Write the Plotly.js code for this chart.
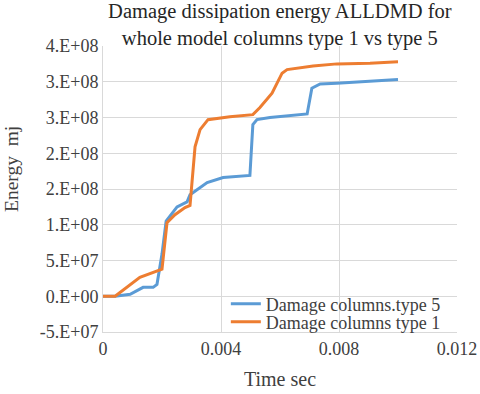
<!DOCTYPE html>
<html>
<head>
<meta charset="utf-8">
<script src="https://cdn.plot.ly/plotly-3.0.1.min.js"></script>
<style>
html,body{margin:0;padding:0;background:#fff;}
#chart{width:480px;height:394px;}
</style>
</head>
<body>
<div id="chart"></div>
<script>
// Damage columns.type 5 (blue)
var timeType5 = [0, 0.00041, 0.00092, 0.00136, 0.0017, 0.00183, 0.0020, 0.00214, 0.00251, 0.00285, 0.00295, 0.00319, 0.00353, 0.00407, 0.00498, 0.00508, 0.00522, 0.00566, 0.00624, 0.00692, 0.00708, 0.00736, 0.00793, 0.00905, 0.0100];
var energyType5 = [0, 0, 2.8e6, 1.25e7, 1.25e7, 1.67e7, 5.9e7, 1.05e8, 1.25e8, 1.32e8, 1.42e8, 1.49e8, 1.59e8, 1.66e8, 1.69e8, 2.40e8, 2.47e8, 2.50e8, 2.52e8, 2.55e8, 2.91e8, 2.97e8, 2.98e8, 3.01e8, 3.03e8];
// Damage columns type 1 (orange)
var timeType1 = [0, 0.00041, 0.00125, 0.00186, 0.0020, 0.00217, 0.00244, 0.00278, 0.00295, 0.00312, 0.00329, 0.00356, 0.0043, 0.00508, 0.00532, 0.00573, 0.00607, 0.00624, 0.00712, 0.00793, 0.00905, 0.0100];
var energyType1 = [0, 0, 2.65e7, 3.5e7, 3.8e7, 1.03e8, 1.14e8, 1.24e8, 1.27e8, 2.09e8, 2.33e8, 2.47e8, 2.51e8, 2.54e8, 2.64e8, 2.84e8, 3.12e8, 3.17e8, 3.22e8, 3.25e8, 3.26e8, 3.28e8];
// Axis ticks (labels as shown, rounded by the original format)
var yTickVals = [-5e7, 0, 5e7, 1e8, 1.5e8, 2e8, 2.5e8, 3e8, 3.5e8];
var yTickText = ['-5.E+07', '0.E+00', '5.E+07', '1.E+08', '2.E+08', '2.E+08', '3.E+08', '3.E+08', '4.E+08'];
var xTickVals = [0, 0.004, 0.008, 0.012];
var xTickText = ['0', '0.004', '0.008', '0.012'];

var fontFam = 'Liberation Serif, Times New Roman, serif';
var traces = [
  {x: timeType5, y: energyType5, mode: 'lines', name: 'Damage columns.type 5',
   line: {color: '#5B9BD5', width: 3}, legend: 'legend'},
  {x: timeType1, y: energyType1, mode: 'lines', name: 'Damage columns type 1',
   line: {color: '#ED7D31', width: 3}, legend: 'legend2'}
];
var legendFont = {family: fontFam, size: 18, color: '#404040'};
var layout = {
  width: 480, height: 394,
  margin: {l: 103, r: 23, t: 46, b: 62},
  paper_bgcolor: '#fff', plot_bgcolor: '#fff',
  font: {family: fontFam, color: '#404040', size: 18},
  title: {text: 'Damage dissipation energy ALLDMD for<br>whole model columns type 1 vs type 5',
          font: {family: fontFam, size: 20.5, color: '#262626'},
          x: 0.583, xanchor: 'center', y: 0.954, yanchor: 'middle'},
  xaxis: {range: [0, 0.012], tickvals: xTickVals, ticktext: xTickText,
          showgrid: true, gridcolor: '#D9D9D9', gridwidth: 1,
          zeroline: false, showline: true, linecolor: '#D9D9D9', linewidth: 1,
          ticks: '', tickfont: {family: fontFam, size: 18, color: '#404040'},
          title: {text: 'Time sec', font: {family: fontFam, size: 20, color: '#404040'}, standoff: 14}},
  yaxis: {range: [-5e7, 3.5e8], tickvals: yTickVals, ticktext: yTickText,
          showgrid: true, gridcolor: '#D9D9D9', gridwidth: 1,
          zeroline: false, showline: true, linecolor: '#D9D9D9', linewidth: 1,
          ticks: '', tickfont: {family: fontFam, size: 18, color: '#404040'}},
  annotations: [{text: 'Energy  mj', xref: 'paper', yref: 'paper', x: -0.257, y: 0.57,
                 xanchor: 'center', yanchor: 'middle', textangle: -90, showarrow: false,
                 font: {family: fontFam, size: 19.5, color: '#404040'}}],
  legend: {x: 0.347, xanchor: 'left', y: 0.0975, yanchor: 'middle',
           bgcolor: 'rgba(0,0,0,0)', font: legendFont},
  legend2: {x: 0.347, xanchor: 'left', y: 0.0345, yanchor: 'middle',
           bgcolor: 'rgba(0,0,0,0)', font: legendFont},
  showlegend: true
};
Plotly.newPlot('chart', traces, layout, {displayModeBar: false, staticPlot: true});
</script>
</body>
</html>
